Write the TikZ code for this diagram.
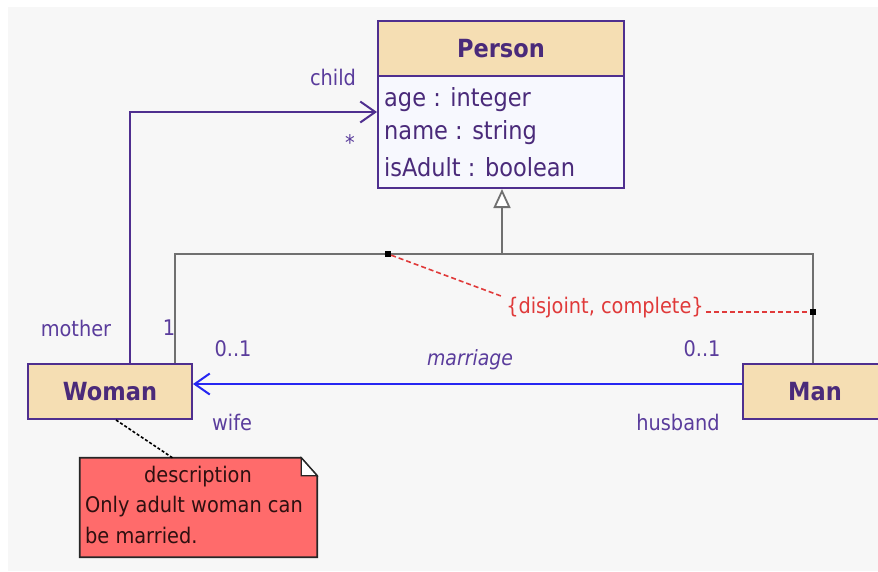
\documentclass[tikz,border=0pt]{standalone}
\usepackage{fontspec}
\setmainfont{DejaVu Sans}[FakeStretch=0.9]
\usetikzlibrary{arrows.meta}
\definecolor{bg}{HTML}{F7F7F7}
\definecolor{wheat}{HTML}{F5DEB3}
\definecolor{pbody}{HTML}{F7F8FE}
\definecolor{umlpurple}{HTML}{4F2F8F}
\definecolor{txtpurple}{HTML}{4A2A7A}
\definecolor{lblpurple}{HTML}{5A3C9C}
\definecolor{gline}{HTML}{707070}
\definecolor{cred}{HTML}{E03A3A}
\definecolor{mblue}{HTML}{2626F2}
\definecolor{notered}{HTML}{FF6B6B}
\definecolor{notetext}{HTML}{2E1010}
\newcommand{\fsz}[1]{\fontsize{#1}{#1}\selectfont}
\begin{document}
\begin{tikzpicture}[x=1pt,y=-1pt,
  classhead/.style={draw=umlpurple, line width=2pt, fill=wheat, text=txtpurple,
    font=\fsz{25}\bfseries, inner sep=0pt, minimum width=#1},
  classbody/.style={draw=umlpurple, line width=2pt, fill=pbody, inner sep=0pt},
  attr/.style={anchor=west, text=txtpurple, font=\fsz{25}, inner sep=0pt},
  lbl/.style={text=lblpurple, font=\fsz{21.5}, inner sep=0pt},
  assoc/.style={draw=umlpurple, line width=2pt},
  barb/.style={-{Straight Barb[length=15pt,width=21pt,line width=2pt]}},
  genline/.style={draw=gline, line width=2pt},
  knot/.style={fill=black, minimum size=6pt, inner sep=0pt},
  cons/.style={draw=cred, line width=1.6pt, dash pattern=on 5pt off 3pt},
  notetxt/.style={text=notetext, font=\fsz{21.5}, inner sep=0pt}]

% canvas
\clip (0,0) rectangle (878,571);
\fill[white] (0,0) rectangle (878,571);
\fill[bg] (8,7) rectangle (878,571);

% class Person
\node[classhead=246pt, minimum height=55pt] (personHead) at (501,48.5) {Person};
\node[classbody, minimum width=246pt, minimum height=112pt] (personBody) at (501,132) {};
\node[attr] (attrAge)   at (384,100) {age : integer};
\node[attr] (attrName)  at (384,133) {name : string};
\node[attr] (attrAdult) at (384,167) {isAdult : boolean};

% classes Woman and Man
\node[classhead=164pt, minimum height=55pt] (woman) at (110,391.5) {Woman};
\node[classhead=144pt, minimum height=55pt] (man) at (815,391.5) {Man};

% generalization set
\coordinate (gjoin) at (502,254);
\coordinate (gleft) at (175,254);
\coordinate (gright) at (813,254);
\draw[genline, -{Triangle[open, length=19pt, width=17pt, line width=1.8pt, fill=white]}]
  (gjoin) -- (personBody.south -| gjoin);
\draw[genline] (woman.north -| gleft) -- (gleft) -- (gright) -- (man.north -| gright);

% {disjoint, complete} constraint
\node[knot] (k1) at (388,254) {};
\node[knot] (k2) at (813,312) {};
\node[text=cred, font=\fsz{21.5}, inner sep=2pt] (constraint) at (605,308) {\{disjoint, complete\}};
\draw[cons] (k1) -- ([xshift=-2pt,yshift=-1pt]constraint.north west);
\draw[cons] (constraint.east |- k2) -- (k2);

% mother / child association
\coordinate (mx) at (130,0);
\draw[assoc, barb] (woman.north -| mx) |- ([yshift=-37pt]personBody.north west);
\node[lbl] (lchild)  at (333,77)  {child};
\node[lbl] (lstar)   at (350,143) {*};
\node[lbl] (lmother) at (76,328)  {mother};
\node[lbl] (lone)    at (169,328) {1};

% marriage association
\coordinate (my) at (0,384);
\draw[draw=mblue, line width=2.4pt, -{Straight Barb[length=15pt,width=21pt,line width=2pt]}]
  (man.west |- my) -- (woman.east |- my);
\node[lbl, font=\fsz{21}\itshape] (lmarriage) at (470,360) {marriage};
\node[lbl] (lwmult) at (233,349) {0..1};
\node[lbl] (lhmult) at (702,349) {0..1};
\node[lbl] (lwife)  at (232,422) {wife};
\node[lbl] (lhusb)  at (678,422) {husband};

% note attached to Woman
\node[minimum width=237pt, minimum height=99pt, inner sep=0pt] (note) at (198.5,507.5) {};
\draw[fill=notered, draw=black!85, line width=1.8pt]
  (note.north west) -- ([xshift=-16pt]note.north east) -- ([yshift=-18pt]note.north east)
  -- (note.south east) -- (note.south west) -- cycle;
\draw[fill=white, draw=black!85, line width=1.2pt]
  ([xshift=-16pt]note.north east) -- ([xshift=-16pt,yshift=-18pt]note.north east)
  -- ([yshift=-18pt]note.north east) -- cycle;
\node[notetxt] (ntitle) at (198,477) {description};
\node[notetxt, anchor=west] (nline1) at (85,507) {Only adult woman can};
\node[notetxt, anchor=west] (nline2) at (85,535) {be married.};
\draw[black, line width=1.6pt, dash pattern=on 3pt off 2pt]
  ([xshift=6pt]woman.south) -- ([xshift=-26pt]note.north);
\end{tikzpicture}
\end{document}
